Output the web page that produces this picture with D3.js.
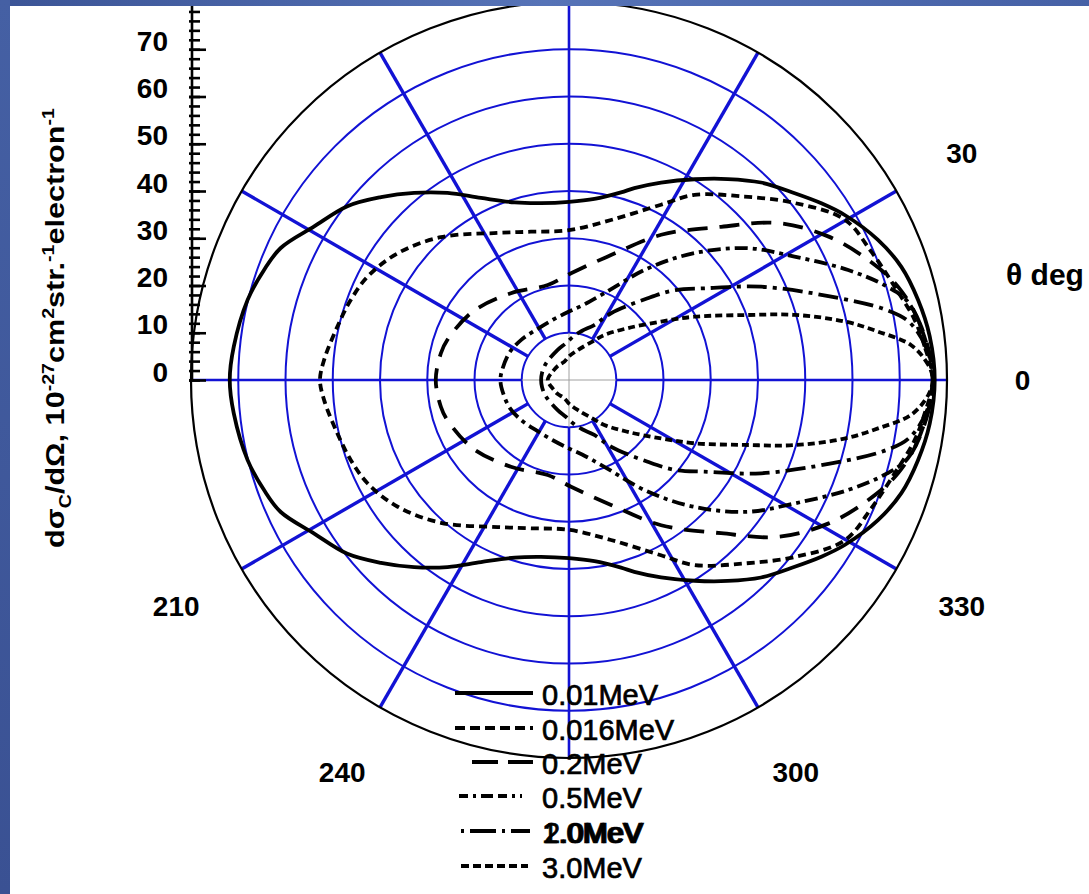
<!DOCTYPE html>
<html>
<head>
<meta charset="utf-8">
<script src="https://cdn.jsdelivr.net/npm/d3@7"></script>
<style>
  html, body { margin: 0; padding: 0; background: #fff; }
  svg { display: block; }
  text { font-family: "Liberation Sans", Arial, Helvetica, sans-serif; fill: #000; }
</style>
</head>
<body>
<svg id="chart" width="1089" height="894"></svg>
<script>
// Compton angular distribution dσ/dΩ (10^-27 cm² sr⁻¹ electron⁻¹) vs scattering angle θ.
// Each series: [θ in degrees, dσ/dΩ]; the distribution is symmetric about θ = 0.
const series001 = [[0,77.4],[6.9,76.9],[12.9,75.8],[18.8,74.3],[24.4,71.8],[30.9,68.0],[35,65.2],[39.6,62.0],[45.8,58.3],[51.7,54.2],[58,50.1],[65,46.1],[71.2,42.9],[74.5,41.2],[82,38.7],[90,37.7],[99,37.9],[107,39.3],[115.8,42.8],[123,47.2],[129.6,51.4],[135.8,55.5],[141.9,59.6],[149,63.0],[155.4,67.1],[160.1,68.6],[166,70.1],[174.3,71.3],[180,71.8]];
const series0016 = [[0,77.0],[5.4,75.6],[10,74.2],[16,71.7],[23,69.5],[30.2,67.5],[38.1,60.7],[46.3,53.7],[55.9,47.3],[62.3,41.9],[75.3,35.0],[90,31.7],[104.4,32.4],[115.9,34.6],[131.9,40.6],[143.5,45.1],[152.8,47.9],[159.9,49.2],[167,50.3],[175.3,52.0],[180,52.7]];
const series02 = [[0,77.0],[8.6,75.4],[15.8,72.4],[21.9,68.2],[29,62.7],[36.9,55.3],[45.2,45.7],[57.6,36.4],[71.4,27.9],[88.9,22.6],[102.6,20.6],[123.8,22.1],[144.7,25.0],[161.7,27.1],[168.2,27.7],[180,28.2]];
const series05 = [[0,77.0],[6,76.0],[13,73.6],[16.5,70.0],[21.5,63.5],[28.7,54.4],[36.4,47.0],[45.3,37.8],[54.8,28.9],[68.6,19.5],[80,16.0],[90,14.5],[105,13.2],[122,12.7],[140,13.2],[156,13.9],[174,14.4],[180,14.5]];
const series12 = [[0,77.0],[5,76.0],[9.7,73.0],[12.6,68.5],[17.5,58.5],[25.9,45.2],[34.1,34.6],[40.2,29.5],[46.1,24.0],[57.8,16.7],[65.3,12.8],[75,10.8],[83.5,9.4],[95,7.8],[110.6,6.8],[144,6.0],[165,5.9],[180,5.9]];
const series30 = [[0,77.0],[2.4,76.1],[5.8,72.8],[8.9,66.2],[12.0,59.6],[16.1,49.7],[20.3,39.6],[26.8,29.7],[32.4,23.1],[41.4,16.6],[51.9,12.1],[58,9.7],[73.8,6.6],[90,5.0],[104,4.0],[130,3.8],[153,3.9],[170,4.3],[180,4.5]];

const legendLabels = [["0.01MeV"],["0.016MeV"],["0.2MeV"],["0.5MeV"],["1.0MeV","2.0MeV"],["3.0MeV"]];
const radialTicks = [0,10,20,30,40,50,60,70];
const ringValues = [10,20,30,40,50,60,70];
const spokeAngles = [0,30,60,90,120,150,180,210,240,270,300,330];
const angleLabels = [0,30,210,240,300,330];

// ---- layout & styles ----
const W = 1089, H = 894;
const cx = 569, cy = 380;
const rMax = 80;
const rScale = d3.scaleLinear().domain([0, rMax]).range([0, 378]);
const yScale = d3.scaleLinear().domain([0, rMax]).range([cy, cy - 378]);
const gridBlue = "#1212d4";
const dashes = [null, "8,5", "20,12", "13,5,4,5", "20,6,4,6", "7,4"];
const legendDashes = [null, "10,5", "26,10", "9,5,3,5,12,5", "3,6,26,6", "8,4"];
const allSeries = [series001, series0016, series02, series05, series12, series30];

const svg = d3.select("#chart");
svg.append("rect").attr("width", W).attr("height", H).attr("fill", "#fff");

const g = svg.append("g").attr("transform", `translate(${cx},${cy})`);
const rad = d => d * Math.PI / 180;
const px = (t, r) => rScale(r) * Math.cos(rad(t));
const py = (t, r) => -rScale(r) * Math.sin(rad(t));

// grid rings
g.selectAll("circle.ring").data(ringValues).join("circle")
  .attr("class", "ring").attr("r", d => rScale(d))
  .attr("fill", "none").attr("stroke", gridBlue).attr("stroke-width", 2);

// thin crosshair inside the innermost ring
g.append("line").attr("x1", -rScale(10)).attr("x2", rScale(10)).attr("y1", 0).attr("y2", 0)
  .attr("stroke", "#a0a0a0").attr("stroke-width", 1);
g.append("line").attr("y1", -rScale(10)).attr("y2", rScale(10)).attr("x1", 0).attr("x2", 0)
  .attr("stroke", "#a0a0a0").attr("stroke-width", 1);

// spokes
g.selectAll("line.spoke").data(spokeAngles).join("line")
  .attr("class", "spoke")
  .attr("x1", d => px(d, 10)).attr("y1", d => py(d, 10))
  .attr("x2", d => px(d, rMax)).attr("y2", d => py(d, rMax))
  .attr("stroke", gridBlue).attr("stroke-width", d => (d % 90 === 0 ? 2.6 : 3.4));

// outer boundary
g.append("circle").attr("r", rScale(rMax)).attr("fill", "none")
  .attr("stroke", "#000").attr("stroke-width", 2.2);

// curves
const radial = d3.lineRadial()
  .angle(d => rad(90 - d[0]))
  .radius(d => rScale(d[1]))
  .curve(d3.curveCatmullRomClosed.alpha(0.5));

function fullLoop(s) {
  const lower = s.slice(1, -1).reverse().map(([t, r]) => [-t, r]);
  return s.concat(lower);
}

g.selectAll("path.curve").data(allSeries).join("path")
  .attr("class", "curve")
  .attr("d", d => radial(fullLoop(d)))
  .attr("fill", "none").attr("stroke", "#000").attr("stroke-width", 3.8)
  .attr("stroke-dasharray", (d, i) => dashes[i]);

// angle labels
g.selectAll("text.ang").data(angleLabels).join("text")
  .attr("class", "ang")
  .attr("x", d => px(d, 96)).attr("y", d => py(d, 96))
  .attr("text-anchor", "middle").attr("dominant-baseline", "central")
  .attr("font-size", 28).attr("font-weight", "bold")
  .text(d => d);

svg.append("text").attr("x", 1006).attr("y", 285)
  .attr("font-size", 30).attr("font-weight", "bold").text("θ deg");

// radial axis along the left
const axisX = cx - rScale(rMax);
svg.append("line").attr("x1", axisX + 1).attr("x2", axisX + 1)
  .attr("y1", cy).attr("y2", yScale(rMax))
  .attr("stroke", "#000").attr("stroke-width", 2.6);

const minorAxis = d3.axisRight(yScale).tickValues(d3.range(0, rMax + 1, 2)).tickSize(11).tickFormat("");
const majorAxis = d3.axisRight(yScale).tickValues(radialTicks).tickSize(17).tickFormat("");
[minorAxis, majorAxis].forEach(ax => {
  const a = svg.append("g").attr("transform", `translate(${axisX - 2},0)`).call(ax);
  a.select(".domain").remove();
  a.selectAll(".tick line").attr("stroke", "#000").attr("stroke-width", 2.6);
});

svg.selectAll("text.rtick").data(radialTicks).join("text")
  .attr("class", "rtick")
  .attr("x", 168).attr("y", d => yScale(d) - 8)
  .attr("text-anchor", "end").attr("dominant-baseline", "central")
  .attr("font-size", 28).attr("font-weight", "bold")
  .text(d => d);

// axis title
const title = svg.append("text")
  .attr("font-size", 25).attr("font-weight", "bold").attr("text-anchor", "middle");
const parts = [
  ["dσ", 0], ["C", 7], ["/dΩ, 10", -7], ["-27", -10], ["cm", 10], ["2", -10], ["str.", 10],
  ["-1", -10], ["electron", 10], ["-1", -10]
];
parts.forEach(([t, dy], i) => {
  const small = (i === 1 || i === 3 || i === 5 || i === 7 || i === 9);
  title.append("tspan").attr("dy", dy).attr("font-size", small ? 16 : 25).text(t);
});
const tw = title.node().getBBox().width;
title.attr("transform", `translate(64,328) rotate(-90) scale(${440 / tw},1)`);

// legend
const legendRows = [705, 740, 774, 808, 843, 878];
const legendStart = [455, 455, 472, 459, 461, 461];
const legendEnd = [533, 533, 533, 522, 530, 528];
const lg = svg.append("g");
legendLabels.forEach((labels, i) => {
  lg.append("line")
    .attr("x1", legendStart[i]).attr("x2", legendEnd[i])
    .attr("y1", legendRows[i] - 12).attr("y2", legendRows[i] - 12)
    .attr("stroke", "#000").attr("stroke-width", 3.8)
    .attr("stroke-dasharray", legendDashes[i]);
  labels.forEach((lbl, j) => {
    lg.append("text").attr("x", 542 + j * 2).attr("y", legendRows[i])
      .attr("font-size", 29)
      .attr("stroke", "#000").attr("stroke-width", 0.7)
      .text(lbl);
  });
});

// slide frame
const defs = svg.append("defs");
const grad = defs.append("linearGradient").attr("id", "frame")
  .attr("x1", 0).attr("y1", 0).attr("x2", 1).attr("y2", 0);
grad.append("stop").attr("offset", 0).attr("stop-color", "#3b5496");
grad.append("stop").attr("offset", 0.5).attr("stop-color", "#5673b7");
grad.append("stop").attr("offset", 1).attr("stop-color", "#4661a6");
const vgrad = defs.append("linearGradient").attr("id", "frameV")
  .attr("x1", 0).attr("y1", 0).attr("x2", 0).attr("y2", 1);
vgrad.append("stop").attr("offset", 0).attr("stop-color", "#4560a4");
vgrad.append("stop").attr("offset", 1).attr("stop-color", "#3a5193");
svg.append("rect").attr("x", 0).attr("y", 0).attr("width", W).attr("height", 6).attr("fill", "url(#frame)");
svg.append("rect").attr("x", 0).attr("y", 0).attr("width", 10).attr("height", H).attr("fill", "url(#frameV)");
</script>
</body>
</html>
